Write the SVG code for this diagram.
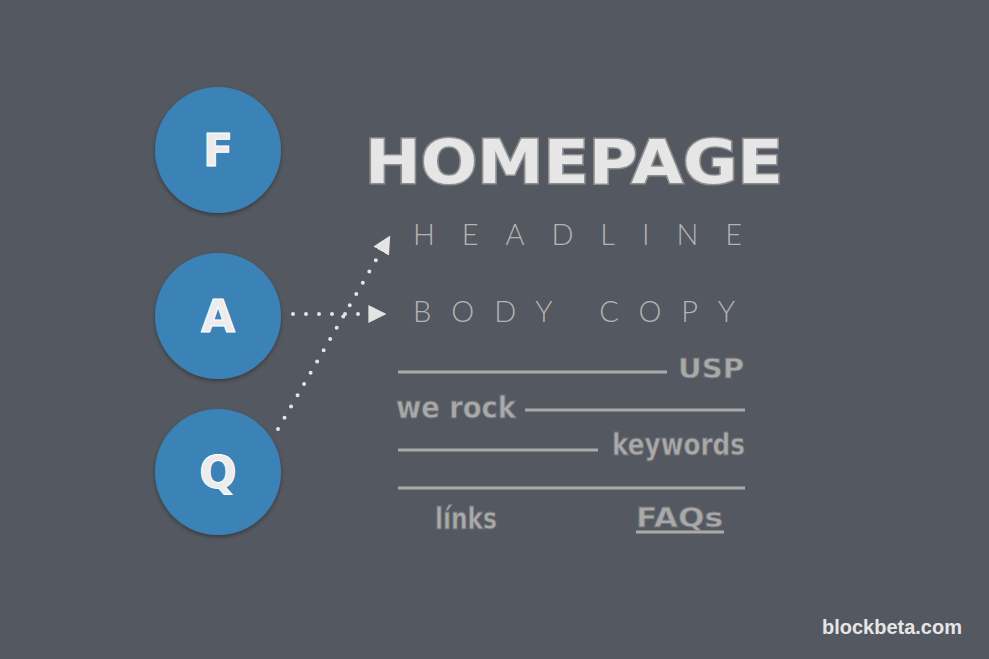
<svg xmlns="http://www.w3.org/2000/svg" width="989" height="659" viewBox="0 0 989 659">
<defs>
<filter id="sh" x="-20%" y="-20%" width="140%" height="140%">
<feDropShadow dx="0" dy="2" stdDeviation="2" flood-color="#000" flood-opacity="0.35"/>
</filter>
<marker id="ah" viewBox="0 0 10 10" refX="2" refY="5" markerWidth="4.5" markerHeight="4.5" markerUnits="strokeWidth" orient="auto">
<path d="M0,0 L10,5 L0,10 Z" fill="#e4e4e4"/>
</marker>
<style>
.circ{fill:#3a82b6;filter:url(#sh)}
.cl{font-family:"DejaVu Sans",sans-serif;font-weight:bold;font-size:44px;fill:#ececec;stroke:#ffffff;stroke-width:1;text-anchor:middle}
.title{font-family:"DejaVu Sans",sans-serif;font-weight:bold;font-size:60px;fill:#e6e6e6;stroke:#8e8e8e;stroke-width:3;paint-order:stroke}
.thin{font-family:Lato,"Open Sans",sans-serif;font-weight:300;font-size:29px;fill:#b4b4b4}
.deco{font-family:"DejaVu Sans",sans-serif;font-weight:bold;fill:#a9a9a9;stroke:#6e7076;stroke-width:0.8}
.rule{stroke:#a9a9a9;stroke-width:3;fill:none}
.dots{stroke:#e4e4e4;stroke-width:4;stroke-linecap:round;stroke-dasharray:0 13;fill:none}
</style>
</defs>
<rect width="989" height="659" fill="#545860"/>
<g id="node-f">
<circle class="circ" cx="218" cy="150" r="63"/>
<text class="cl" x="218" y="166">F</text>
</g>
<g id="node-a">
<circle class="circ" cx="218" cy="316" r="63"/>
<text class="cl" x="218" y="332">A</text>
</g>
<g id="node-q">
<circle class="circ" cx="218" cy="472" r="63"/>
<text class="cl" x="218" y="488">Q</text>
</g>
<g id="connectors">
<path class="dots" d="M293,314 L372,314" marker-end="url(#ah)"/>
<path class="dots" d="M278,429 L383,248" marker-end="url(#ah)"/>
</g>
<g id="homepage">
<text class="title" x="365" y="183" textLength="418" lengthAdjust="spacingAndGlyphs">HOMEPAGE</text>
</g>
<g id="headline">
<text class="thin" x="413" y="245" textLength="329" lengthAdjust="spacing">HEADLINE</text>
</g>
<g id="body-copy">
<text class="thin" x="413" y="322" textLength="322" lengthAdjust="spacing">BODY COPY</text>
</g>
<g id="usp">
<line class="rule" x1="398" y1="372" x2="667" y2="372"/>
<text class="deco" x="678" y="378" font-size="27" textLength="66" lengthAdjust="spacingAndGlyphs">USP</text>
</g>
<g id="we-rock">
<text class="deco" x="396" y="418" font-size="30" textLength="120" lengthAdjust="spacingAndGlyphs">we rock</text>
<line class="rule" x1="525" y1="410" x2="745" y2="410"/>
</g>
<g id="keywords">
<line class="rule" x1="398" y1="450" x2="598" y2="450"/>
<text class="deco" x="612" y="455" font-size="30" textLength="133" lengthAdjust="spacingAndGlyphs">keywords</text>
</g>
<g id="links-row">
<line class="rule" x1="398" y1="488" x2="745" y2="488"/>
<text class="deco" x="435" y="529" font-size="30" textLength="62" lengthAdjust="spacingAndGlyphs">línks</text>
<text class="deco" x="636" y="527" font-size="27" textLength="87" lengthAdjust="spacingAndGlyphs">FAQs</text>
<line class="rule" x1="636" y1="532" x2="724" y2="532"/>
</g>
<text x="962" y="634" text-anchor="end" font-family="Liberation Sans, Arial, sans-serif" font-weight="bold" font-size="20" fill="#e6e6e6">blockbeta.com</text>
</svg>
